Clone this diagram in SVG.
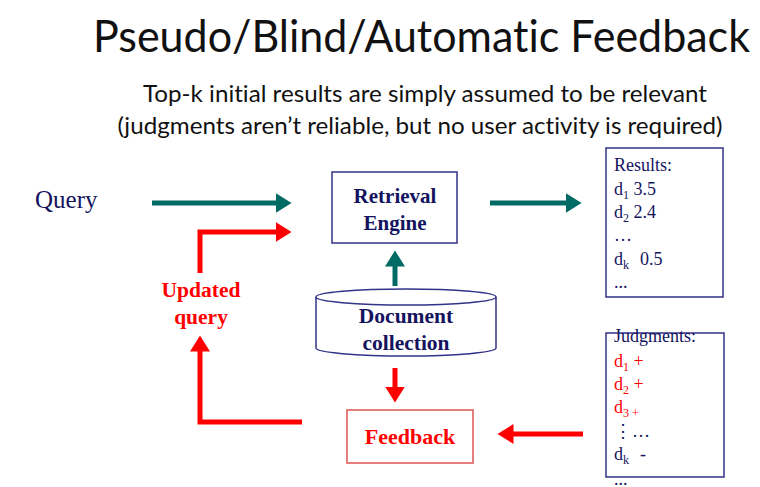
<svg xmlns="http://www.w3.org/2000/svg" width="760" height="487" viewBox="0 0 760 487">
<defs>
<style>
.title{font-family:Lato,"Open Sans","Liberation Sans",sans-serif;fill:#111;font-variant-ligatures:none;}
.serif{font-family:"Liberation Serif","DejaVu Serif",serif;}
.navy{fill:#14145e;}
.red{fill:#ff0000;}
.bold{font-weight:bold;}
.box{fill:#fff;stroke:#333388;stroke-width:1.5;}
.teal{stroke:#006a64;stroke-width:5;fill:none;}
.redl{stroke:#ff0000;stroke-width:5;fill:none;}
</style>
<marker id="ht" markerWidth="4" markerHeight="4" refX="0.5" refY="2" orient="auto" markerUnits="strokeWidth" viewBox="0 0 4 4">
<path d="M0,0 L3.2,2 L0,4 Z" fill="#006a64"/>
</marker>
<marker id="hr" markerWidth="4" markerHeight="4" refX="0.5" refY="2" orient="auto" markerUnits="strokeWidth" viewBox="0 0 4 4">
<path d="M0,0 L3.2,2 L0,4 Z" fill="#ff0000"/>
</marker>
</defs>
<rect width="760" height="487" fill="#ffffff"/>

<g id="title">
<text class="title" x="93" y="52" font-size="44" textLength="657" lengthAdjust="spacingAndGlyphs">Pseudo/Blind/Automatic Feedback</text>
<text class="title" x="425" y="102" font-size="23" text-anchor="middle" textLength="564" lengthAdjust="spacingAndGlyphs">Top-k initial results are simply assumed to be relevant</text>
<text class="title" x="420" y="134" font-size="23" text-anchor="middle" textLength="605" lengthAdjust="spacingAndGlyphs">(judgments aren’t reliable, but no user activity is required)</text>
</g>

<g id="connectors">
<line class="teal" x1="152" y1="203" x2="278" y2="203" marker-end="url(#ht)"/>
<line class="teal" x1="490" y1="203" x2="568" y2="203" marker-end="url(#ht)"/>
<line class="teal" x1="395" y1="286" x2="395" y2="264" marker-end="url(#ht)"/>
<polyline class="redl" points="200,273 200,232 278,232" marker-end="url(#hr)"/>
<polyline class="redl" points="302,422 200,422 200,349" marker-end="url(#hr)"/>
<line class="redl" x1="395" y1="368" x2="395" y2="389" marker-end="url(#hr)"/>
<line class="redl" x1="583" y1="434" x2="511" y2="434" marker-end="url(#hr)"/>
</g>

<g id="query">
<text class="serif navy" x="35" y="208" font-size="25">Query</text>
</g>

<g id="updated-query">
<text class="serif red bold" x="201" y="297" font-size="21.5" text-anchor="middle">Updated</text>
<text class="serif red bold" x="201" y="324" font-size="21.5" text-anchor="middle">query</text>
</g>

<g id="retrieval-engine">
<rect class="box" x="332" y="172" width="125" height="71"/>
<text class="serif navy bold" x="395" y="203" font-size="21" text-anchor="middle">Retrieval</text>
<text class="serif navy bold" x="395" y="230" font-size="21" text-anchor="middle">Engine</text>
</g>

<g id="document-collection">
<path class="box" d="M316,297 L316,348 A90,8 0 0 0 496,348 L496,297"/>
<ellipse class="box" cx="406" cy="297" rx="90" ry="8"/>
<text class="serif navy bold" x="406" y="323" font-size="21.5" text-anchor="middle">Document</text>
<text class="serif navy bold" x="406" y="350" font-size="21.5" text-anchor="middle">collection</text>
</g>

<g id="feedback">
<rect x="347" y="410" width="126" height="53" fill="#fff" stroke="#e05555" stroke-width="1.5"/>
<text class="serif red bold" x="410" y="444" font-size="22" text-anchor="middle">Feedback</text>
</g>

<g id="results">
<rect class="box" x="606" y="148" width="117" height="149"/>
<text class="serif navy" font-size="18">
<tspan x="614" y="171">Results:</tspan>
<tspan x="614" y="195">d<tspan font-size="12" dy="4">1</tspan><tspan dy="-4"> 3.5</tspan></tspan>
<tspan x="614" y="218">d<tspan font-size="12" dy="4">2</tspan><tspan dy="-4"> 2.4</tspan></tspan>
<tspan x="614" y="241">…</tspan>
<tspan x="614" y="265">d<tspan font-size="12" dy="4">k</tspan><tspan x="640" dy="-4">0.5</tspan></tspan>
<tspan x="614" y="288">...</tspan>
</text>
</g>

<g id="judgments">
<rect class="box" x="606" y="333" width="118" height="144"/>
<text class="serif navy" x="614" y="342" font-size="18">Judgments:</text>
<text class="serif red" font-size="18">
<tspan x="614" y="367">d<tspan font-size="12" dy="4">1</tspan><tspan dy="-4"> +</tspan></tspan>
<tspan x="614" y="390">d<tspan font-size="12" dy="4">2</tspan><tspan dy="-4"> +</tspan></tspan>
<tspan x="614" y="413">d<tspan font-size="12" dy="4">3 +</tspan></tspan>
</text>
<text class="serif navy" font-size="18">
<tspan x="614" y="437">⋮…</tspan>
<tspan x="614" y="460">d<tspan font-size="12" dy="4">k</tspan><tspan x="640" dy="-4">-</tspan></tspan>
<tspan x="614" y="485">...</tspan>
</text>
</g>
</svg>
